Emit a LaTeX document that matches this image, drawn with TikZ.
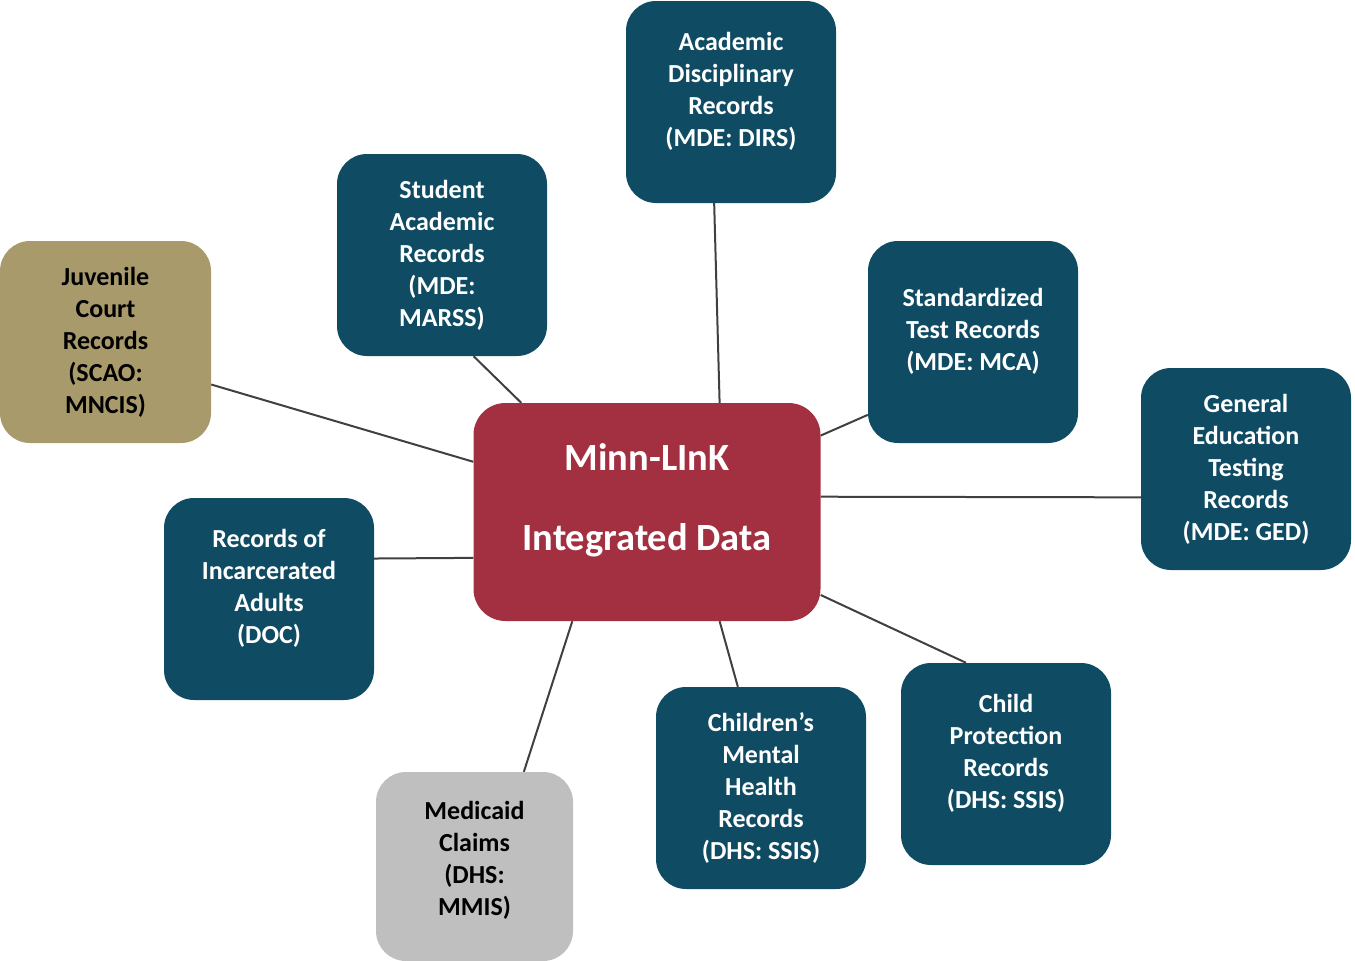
\documentclass[tikz,border=0pt]{standalone}
\usepackage{fontspec}
\setmainfont{Carlito}
\usetikzlibrary{calc,backgrounds}

\definecolor{mlteal}{RGB}{15,76,99}
\definecolor{mlred}{RGB}{163,48,65}
\definecolor{mlkhaki}{RGB}{168,154,107}
\definecolor{mlgray}{RGB}{191,191,191}
\definecolor{linkgray}{RGB}{64,64,64}

\tikzset{
  srcbox/.style={rounded corners=30pt, minimum width=210pt, minimum height=202pt,
    inner sep=0pt, align=center, fill=mlteal, text=white,
    font=\bfseries\fontsize{26}{32}\selectfont},
  hubbox/.style={rounded corners=32pt, minimum width=347pt, minimum height=218pt,
    inner sep=0pt, align=center, fill=mlred, text=white,
    font=\bfseries\fontsize{38.5}{40}\selectfont},
  link/.style={draw=linkgray, line width=2pt},
}

\begin{document}
\begin{tikzpicture}[x=1pt,y=-1pt]
  \useasboundingbox (0,0) rectangle (1355,961);

  % hub
  \node[hubbox] (hub) at (647,512) {Minn-LInK\\[40pt]Integrated Data\\[-10pt]~};

  % data sources
  \node[srcbox] (aca) at (731,102) {Academic\\Disciplinary\\Records\\(MDE: DIRS)\\[-6pt]~};
  \node[srcbox] (stu) at (442,255) {Student\\Academic\\Records\\(MDE:\\MARSS)};
  \node[srcbox, fill=mlkhaki, text=black, minimum width=211pt] (juv) at (105.5,342) {Juvenile\\Court\\Records\\(SCAO:\\MNCIS)};
  \node[srcbox] (std) at (973,342) {Standardized\\Test Records\\(MDE: MCA)\\[-6pt]~};
  \node[srcbox] (ged) at (1246,469) {General\\Education\\Testing\\Records\\(MDE: GED)};
  \node[srcbox] (inc) at (269,599) {Records of\\Incarcerated\\Adults\\(DOC)\\[-6pt]~};
  \node[srcbox, fill=mlgray, text=black, minimum width=197pt, minimum height=189pt] (med) at (474.5,866.5) {Medicaid\\Claims\\(DHS:\\MMIS)\\[-16pt]~};
  \node[srcbox] (cmh) at (761,788) {Children’s\\Mental\\Health\\Records\\(DHS: SSIS)};
  \node[srcbox] (cps) at (1006,764) {Child\\Protection\\Records\\(DHS: SSIS)\\[-6pt]~};

  % connectors
  \begin{scope}[on background layer]
    \draw[link] ($(hub.north west)!0.709!(hub.north east)$) -- ($(aca.south west)!0.42!(aca.south east)$);
    \draw[link] ($(hub.north west)!0.138!(hub.north east)$) -- ($(stu.south west)!0.65!(stu.south east)$);
    \draw[link] ($(hub.north west)!0.27!(hub.south west)$) -- ($(juv.north east)!0.71!(juv.south east)$);
    \draw[link] ($(hub.north east)!0.15!(hub.south east)$) -- ($(std.north west)!0.86!(std.south west)$);
    \draw[link] ($(hub.north east)!0.43!(hub.south east)$) -- ($(ged.north west)!0.64!(ged.south west)$);
    \draw[link] ($(hub.north west)!0.71!(hub.south west)$) -- ($(inc.north east)!0.30!(inc.south east)$);
    \draw[link] ($(hub.south west)!0.285!(hub.south east)$) -- ($(med.north west)!0.75!(med.north east)$);
    \draw[link] ($(hub.south west)!0.709!(hub.south east)$) -- ($(cmh.north west)!0.39!(cmh.north east)$);
    \draw[link] ($(hub.north east)!0.88!(hub.south east)$) -- ($(cps.north west)!0.31!(cps.north east)$);
  \end{scope}
\end{tikzpicture}
\end{document}
